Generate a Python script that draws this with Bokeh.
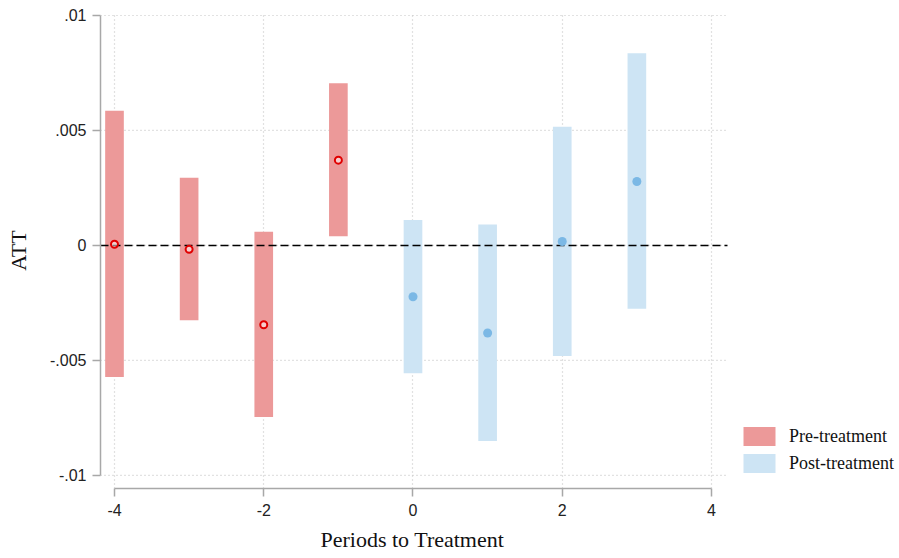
from bokeh.plotting import figure
from bokeh.models import (ColumnDataSource, FixedTicker, Legend, LegendItem, Range1d, Title)
from bokeh.embed import file_html
from bokeh.resources import INLINE

# Data
pre_period = [-4, -3, -2, -1]
pre_att = [0.00005, -0.00017, -0.00345, 0.00371]
pre_lo = [-0.00572, -0.00325, -0.00746, 0.00040]
pre_hi = [0.00586, 0.00294, 0.00059, 0.00705]

post_period = [0, 1, 2, 3]
post_att = [-0.00223, -0.00381, 0.00017, 0.00278]
post_lo = [-0.00556, -0.00850, -0.00481, -0.00275]
post_hi = [0.00111, 0.00091, 0.00516, 0.00836]

x_ticks = [-4, -2, 0, 2, 4]
x_tick_labels = ["-4", "-2", "0", "2", "4"]
y_ticks = [-0.01, -0.005, 0, 0.005, 0.01]
y_tick_labels = ["-.01", "-.005", "0", ".005", ".01"]

PRE_BAR = "#EC9999"
PRE_PT = "#E00000"
POST_BAR = "#CDE4F4"
POST_PT = "#7BB8E5"

# plot region (data units) – the frame is extended to the right to host the legend
X_LO, X_HI = -4.1876, 4.2144
PX_PER_X = 74.625
FRAME_LEFT = 100
WIDTH, HEIGHT = 899, 558
x_end = X_LO + (WIDTH - FRAME_LEFT) / PX_PER_X

p = figure(width=WIDTH, height=HEIGHT, output_backend="svg", toolbar_location=None,
           x_range=Range1d(X_LO, x_end), y_range=Range1d(-0.01057, 0.01013),
           min_border_left=FRAME_LEFT, min_border_right=0, min_border_top=12,
           min_border_bottom=70)
p.outline_line_color = None
p.background_fill_color = "white"
p.border_fill_color = "white"

pre_src = ColumnDataSource(dict(x=pre_period, y=pre_att, lo=pre_lo, hi=pre_hi))
post_src = ColumnDataSource(dict(x=post_period, y=post_att, lo=post_lo, hi=post_hi))

# grid
p.xgrid.ticker = FixedTicker(ticks=x_ticks)
p.xgrid.grid_line_color = "#c4c4c4"
p.xgrid.grid_line_dash = "1 3"
p.xgrid.grid_line_width = 1.2
p.ygrid.visible = False
grid_src = ColumnDataSource(dict(y=y_ticks, x0=[X_LO] * len(y_ticks), x1=[X_HI] * len(y_ticks)))
p.segment(x0="x0", x1="x1", y0="y", y1="y", source=grid_src,
          line_color="#c4c4c4", line_dash="1 3", line_width=1.2)

r_pre = p.vbar(x="x", bottom="lo", top="hi", width=0.25, source=pre_src,
               fill_color=PRE_BAR, line_color=None)
r_post = p.vbar(x="x", bottom="lo", top="hi", width=0.25, source=post_src,
                fill_color=POST_BAR, line_color=None)
p.segment(x0=[X_LO], x1=[X_HI], y0=[0], y1=[0], line_color="black",
          line_dash="8 4", line_width=1.5)
p.scatter(x="x", y="y", source=pre_src, size=7, fill_color="white", fill_alpha=0.5,
          line_color=PRE_PT, line_width=2)
p.scatter(x="x", y="y", source=post_src, size=9, fill_color=POST_PT, line_color=None)

# axes
p.xaxis.ticker = FixedTicker(ticks=x_ticks)
p.yaxis.ticker = FixedTicker(ticks=y_ticks)
p.xaxis.major_label_overrides = {t: l for t, l in zip(x_ticks, x_tick_labels)}
p.yaxis.major_label_overrides = {t: l for t, l in zip(y_ticks, y_tick_labels)}
p.xaxis.bounds = (min(x_ticks), max(x_ticks))
p.yaxis.bounds = (min(y_ticks), max(y_ticks))
for ax in (p.xaxis, p.yaxis):
    ax.axis_line_color = "#a8a8a8"
    ax.axis_line_width = 1.5
    ax.major_tick_line_color = "#a8a8a8"
    ax.major_tick_line_width = 1.5
    ax.major_tick_out = 8
    ax.major_tick_in = 0
    ax.minor_tick_line_color = None
    ax.major_label_text_font = "Liberation Sans"
    ax.major_label_text_font_size = "16px"
    ax.major_label_text_color = "#222222"
    ax.axis_label_text_font = "Liberation Serif"
    ax.axis_label_text_font_size = "22px"
    ax.axis_label_text_font_style = "normal"
    ax.axis_label_text_color = "#111111"
p.yaxis.axis_label = "ATT"
p.xaxis.major_label_standoff = 7
p.yaxis.major_label_standoff = 6
p.yaxis.axis_label_standoff = 16
p.yaxis.major_label_orientation = "horizontal"

xtitle = Title(text="Periods to Treatment", align="left", offset=220, standoff=12,
               text_font="Liberation Serif", text_font_size="22px",
               text_font_style="normal", text_color="#111111")
p.add_layout(xtitle, "below")

legend = Legend(items=[LegendItem(label="Pre-treatment", renderers=[r_pre]),
                       LegendItem(label="Post-treatment", renderers=[r_post])],
                location=(639, 13), margin=0, padding=0, spacing=3,
                glyph_width=40, glyph_height=24, label_standoff=10,
                label_text_font="Liberation Serif", label_text_font_size="18px",
                label_text_color="#111111",
                border_line_color=None, background_fill_alpha=0)
p.add_layout(legend, "center")

open("out.html", "w").write(file_html(p, INLINE))
